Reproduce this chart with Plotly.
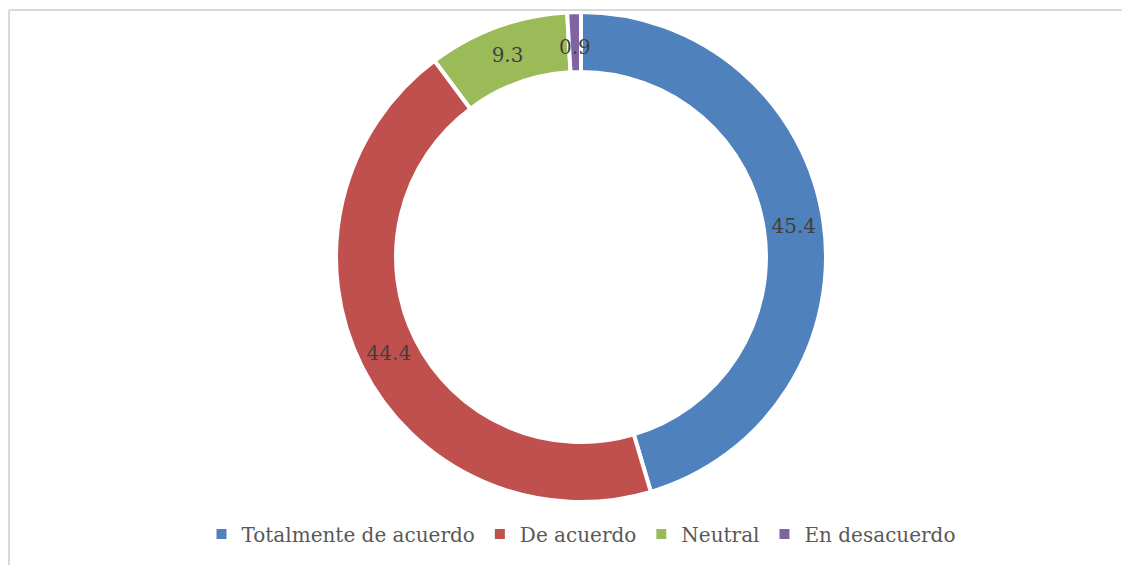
import math
import plotly.graph_objects as go

categories = ["Totalmente de acuerdo", "De acuerdo", "Neutral", "En desacuerdo"]
values = [45.4, 44.4, 9.3, 0.9]
colors = ["#4F81BD", "#C0504D", "#9BBB59", "#8064A2"]

W, H = 1130, 565
# pie geometry in pixels (page has an 8px body margin)
cx, cy, r_out = 573, 249, 245
hole = 0.755
r_mid = r_out * (1 + 0.767) / 2

# the tiny slice's label is placed as an annotation at the slice middle
small = [v < 2 for v in values]
texts = ["" if s else str(v) for v, s in zip(values, small)]

fig = go.Figure(go.Pie(
    labels=categories,
    values=values,
    text=texts,
    textinfo="text",
    textposition="inside",
    insidetextorientation="horizontal",
    hole=hole,
    sort=False,
    direction="clockwise",
    rotation=0,
    marker=dict(colors=colors, line=dict(color="white", width=4)),
    textfont=dict(family="DejaVu Serif", size=20, color="#404040"),
    domain=dict(x=[(cx - r_out) / W, (cx + r_out) / W],
                y=[(H - cy - r_out) / H, (H - cy + r_out) / H]),
))

total = sum(values)
cum = 0
for v, s in zip(values, small):
    if s:
        ang = math.radians((cum + v / 2) / total * 360)
        px = cx + r_mid * math.sin(ang)
        py = cy - r_mid * math.cos(ang) - 8
        fig.add_annotation(x=px / W, y=1 - py / H, xref="paper", yref="paper",
                           text=str(v), showarrow=False,
                           font=dict(family="DejaVu Serif", size=20, color="#404040"))
    cum += v

# light frame (top and left edge of the chart area)
fig.add_shape(type="line", xref="paper", yref="paper",
              x0=1 / W, x1=1, y0=1 - 2 / H, y1=1 - 2 / H,
              line=dict(color="#d9d9d9", width=2))
fig.add_shape(type="line", xref="paper", yref="paper",
              x0=1 / W, x1=1 / W, y0=0, y1=1 - 2 / H,
              line=dict(color="#d9d9d9", width=2))

fig.update_layout(
    width=W, height=H,
    margin=dict(l=0, r=0, t=0, b=0),
    paper_bgcolor="white",
    uniformtext=dict(minsize=20, mode="show"),
    legend=dict(orientation="h", x=cx / W, xanchor="center", y=(H - 526) / H, yanchor="middle",
                font=dict(family="DejaVu Serif", size=20, color="#595959"),
                itemsizing="constant", itemwidth=30),
    showlegend=True,
)

fig.write_html("out.html")
